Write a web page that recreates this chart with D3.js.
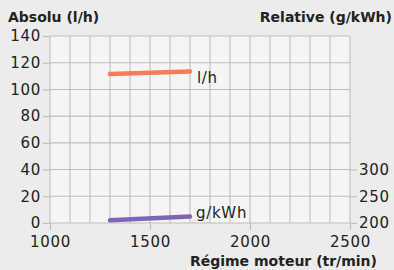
<!DOCTYPE html>
<html>
<head>
<meta charset="utf-8">
<script src="https://cdn.jsdelivr.net/npm/d3@7"></script>
<style>
body{margin:0;background:#ececec;}
svg text{font-family:"DejaVu Sans",sans-serif;fill:#222;}
</style>
</head>
<body>
<svg id="chart" width="394" height="270"></svg>
<script>
// régime moteur
var rpm = [1300, 1700];
var absolu = [111.5, 113.5];   // l/h
var relative = [205, 212];     // g/kWh
var xTicks = [1000, 1500, 2000, 2500];
var yTicks = [0, 20, 40, 60, 80, 100, 120, 140];
var rTicks = [200, 250, 300];

var svg = d3.select("#chart");
var x = d3.scaleLinear().domain([1000, 2500]).range([50, 350]);
var y = d3.scaleLinear().domain([0, 140]).range([223, 36]);
var yr = d3.scaleLinear().domain([200, 550]).range([223, 36]);

svg.append("rect").attr("x", 50).attr("y", 36).attr("width", 300).attr("height", 187).attr("fill", "#f5f5f5");

// grille
var g = svg.append("g").attr("stroke", "#bdbdbd").attr("stroke-width", 1.1);
d3.range(1000, 2501, 100).forEach(function(v){
	g.append("line").attr("x1", x(v)).attr("x2", x(v)).attr("y1", 36).attr("y2", 223);
});
yTicks.forEach(function(v){
	g.append("line").attr("x1", 50).attr("x2", 350).attr("y1", y(v)).attr("y2", y(v));
});

// axes
var ax = d3.axisBottom(x).tickValues(xTicks).tickSize(7).tickPadding(6).tickFormat(d3.format("d"));
var ay = d3.axisLeft(y).tickValues(yTicks).tickSize(7).tickPadding(2);
var ar = d3.axisRight(yr).tickValues(rTicks).tickSize(7).tickPadding(2);
[[ax, "translate(0,223)"], [ay, "translate(50,0)"], [ar, "translate(350,0)"]].forEach(function(a){
	var s = svg.append("g").attr("transform", a[1]).call(a[0]);
	s.select(".domain").remove();
	s.selectAll("line").attr("stroke", "#bdbdbd").attr("stroke-width", 1.1);
	s.selectAll("text").attr("font-size", 15).attr("letter-spacing", 0.7).attr("fill", "#222");
});

var line1 = d3.line().x(function(d, i){ return x(rpm[i]); }).y(function(d){ return y(d); });
var line2 = d3.line().x(function(d, i){ return x(rpm[i]); }).y(function(d){ return yr(d); });
svg.append("path").attr("d", line1(absolu)).attr("fill", "none").attr("stroke", "#f47c5a").attr("stroke-width", 4.5).attr("stroke-linecap", "round");
svg.append("path").attr("d", line2(relative)).attr("fill", "none").attr("stroke", "#7d66b6").attr("stroke-width", 4.5).attr("stroke-linecap", "round");

svg.append("text").attr("x", 197).attr("y", y(absolu[1]) + 12).attr("font-size", 15).attr("letter-spacing", 0.7).text("l/h");
svg.append("text").attr("x", 196).attr("y", yr(relative[1]) + 1).attr("font-size", 15).attr("letter-spacing", 0.7).text("g/kWh");

svg.append("text").attr("x", 8).attr("y", 22).attr("font-size", 14).attr("font-weight", "bold").text("Absolu (l/h)");
svg.append("text").attr("x", 392).attr("y", 22).attr("font-size", 14).attr("font-weight", "bold").attr("text-anchor", "end").text("Relative (g/kWh)");
svg.append("text").attr("x", 377).attr("y", 266).attr("font-size", 14).attr("font-weight", "bold").attr("text-anchor", "end").text("Régime moteur (tr/min)");
</script>
</body>
</html>
